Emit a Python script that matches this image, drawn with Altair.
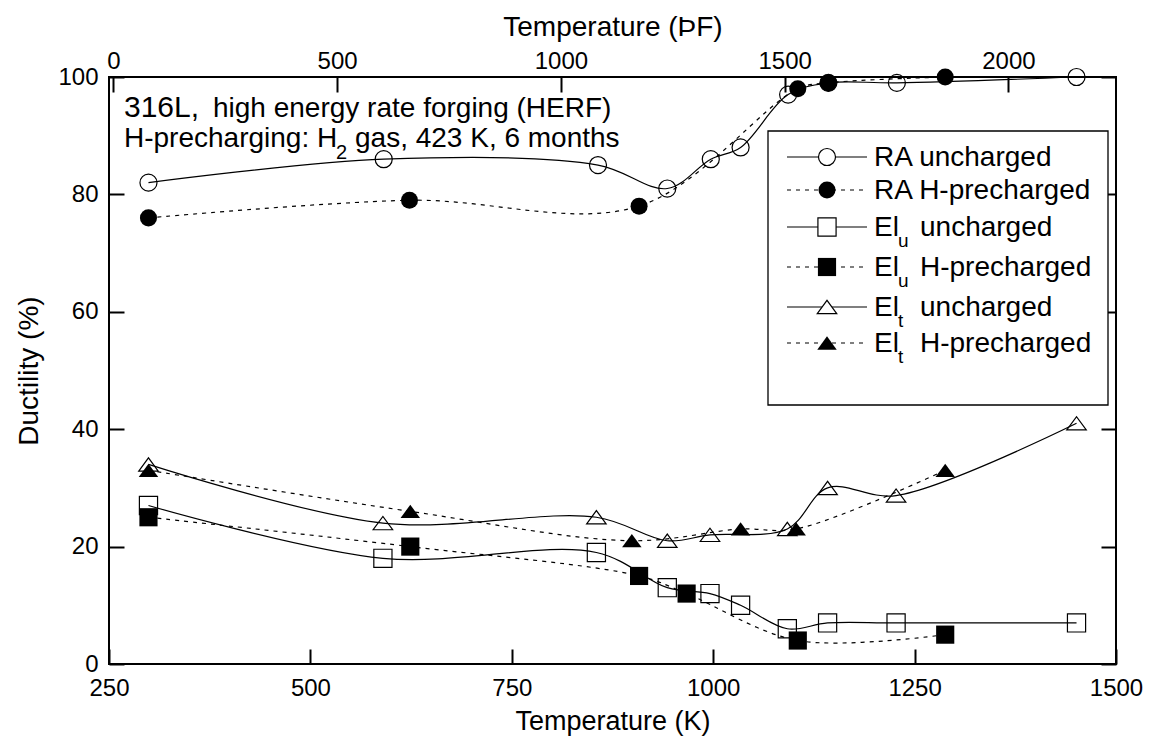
import altair as alt
import pandas as pd

# ---------------- data ----------------
ra_unc_T = [299, 591, 857, 943, 997, 1034, 1093, 1143, 1228, 1451]
ra_unc_V = [82, 86, 85, 81, 86, 88, 97, 99, 99, 100]

ra_h_T = [299, 623, 908, 1105, 1143, 1288]
ra_h_V = [76, 79, 78, 98, 99, 100]

elu_unc_T = [299, 590, 855, 943, 996, 1034, 1092, 1142, 1227, 1451]
elu_unc_V = [27, 18, 19, 13, 12, 10, 6, 7, 7, 7]

elu_h_T = [299, 624, 908, 967, 1105, 1288]
elu_h_V = [25, 20, 15, 12, 4, 5]

elt_unc_T = [299, 590, 855, 943, 996, 1092, 1142, 1227, 1451]
elt_unc_V = [34, 24, 25, 21, 22, 23, 30, 28.7, 41]

elt_h_T = [299, 624, 899, 1034, 1103, 1288]
elt_h_V = [33, 26, 21, 23, 23, 33]

k_ticks = [250, 500, 750, 1000, 1250, 1500]
f_ticks = [0, 500, 1000, 1500, 2000]
y_ticks = [0, 20, 40, 60, 80, 100]

FONT = "Liberation Sans"
W, H = 1007, 587
TRI = "M-1,0.68L1,0.68L0,-0.68Z"

xs = alt.Scale(domain=[250, 1500], nice=False, zero=False)
ys = alt.Scale(domain=[0, 100], nice=False, zero=False)
f_lo = (250 - 273.15) * 1.8 + 32
f_hi = (1500 - 273.15) * 1.8 + 32
fs = alt.Scale(domain=[f_lo, f_hi], nice=False, zero=False)

common = dict(offset=-15, tickSize=15, tickWidth=2, tickColor="black", domain=False,
              grid=False, labelFont=FONT, titleFont=FONT, labelColor="black",
              titleColor="black", titleFontWeight="normal")

x_axis = alt.Axis(orient="bottom", values=k_ticks, title="Temperature (K)",
                  labelPadding=12, labelFontSize=24, titleFontSize=27, titlePadding=8,
                  labelFlush=False, labelOverlap=False, format="d", **common)
y_axis = alt.Axis(orient="left", values=y_ticks, title="Ductility (%)",
                  labelPadding=11, labelFontSize=24, titleFontSize=28, titlePadding=14,
                  labelFlush=False, labelOverlap=False, format="d", **common)
r_axis = alt.Axis(orient="right", values=y_ticks, title="", labels=False, **common)
t_axis = alt.Axis(orient="top", values=f_ticks, title="Temperature (ÞF)",
                  labelPadding=4, labelFontSize=24, titleFontSize=28, titlePadding=8,
                  labelFlush=False, labelOverlap=False, format="d", **common)

series = [
    ("RA uncharged", ra_unc_T, ra_unc_V, "circle", False, 290),
    ("El_u uncharged", elu_unc_T, elu_unc_V, "square", False, 330),
    ("El_t uncharged", elt_unc_T, elt_unc_V, TRI, False, 380),
    ("RA H-precharged", ra_h_T, ra_h_V, "circle", True, 290),
    ("El_u H-precharged", elu_h_T, elu_h_V, "square", True, 330),
    ("El_t H-precharged", elt_h_T, elt_h_V, TRI, True, 380),
]

DASH = [4, 5]
layers = []
for name, T, V, shape, filled, size in series:
    df = pd.DataFrame({"T": T, "v": V})
    enc = dict(x=alt.X("T:Q", scale=xs, axis=x_axis), y=alt.Y("v:Q", scale=ys, axis=y_axis))
    lk = dict(color="black", strokeWidth=1.2, interpolate="catmull-rom")
    if filled:
        lk["strokeDash"] = DASH
    layers.append(alt.Chart(df).mark_line(**lk).encode(**enc))
for name, T, V, shape, filled, size in series:
    df = pd.DataFrame({"T": T, "v": V})
    enc = dict(x=alt.X("T:Q", scale=xs, axis=x_axis), y=alt.Y("v:Q", scale=ys, axis=y_axis))
    if filled:
        mk = alt.Chart(df).mark_point(shape=shape, filled=True, color="black", size=size, opacity=1)
    else:
        mk = alt.Chart(df).mark_point(shape=shape, filled=False, color="black", size=size,
                                      strokeWidth=1.2, opacity=1)
    layers.append(mk.encode(**enc))

one = pd.DataFrame({"a": [0]})


def txt(s, x, y, size):
    return alt.Chart(one).mark_text(text=s, font=FONT, fontSize=size, align="left",
                                    baseline="alphabetic", color="black").encode(
        x=alt.value(x), y=alt.value(y))


# annotation (pixel positions relative to plot area)
layers += [
    txt("316L,", 15, 40, 30),
    txt("high energy rate forging (HERF)", 104, 40, 28),
    txt("H-precharging: H", 15, 70, 28),
    txt("2", 227, 82, 20),
    txt("gas, 423 K, 6 months", 246, 70, 28),
]

# legend
layers.append(alt.Chart(one).mark_rect(fill="white", stroke="black", strokeWidth=1.3).encode(
    x=alt.value(659), x2=alt.value(999), y=alt.value(54), y2=alt.value(328)))

leg_rows = [
    ("RA", None, " uncharged", "circle", False, 290, 80),
    ("RA", None, " H-precharged", "circle", True, 290, 113),
    ("El", "u", " uncharged", "square", False, 330, 150),
    ("El", "u", " H-precharged", "square", True, 330, 190),
    ("El", "t", " uncharged", TRI, False, 380, 230),
    ("El", "t", " H-precharged", TRI, True, 380, 266),
]
for main, sub, rest, shape, filled, size, ry in leg_rows:
    rk = dict(color="black", strokeWidth=1.2)
    if filled:
        rk["strokeDash"] = DASH
    layers.append(alt.Chart(one).mark_rule(**rk).encode(
        x=alt.value(678), x2=alt.value(758), y=alt.value(ry)))
    if filled:
        layers.append(alt.Chart(one).mark_point(shape=shape, filled=True, color="black",
                                                size=size, opacity=1).encode(
            x=alt.value(718), y=alt.value(ry)))
    else:
        layers.append(alt.Chart(one).mark_point(shape=shape, filled=False, fill="white",
                                                stroke="black", strokeWidth=1.2, size=size,
                                                opacity=1, fillOpacity=1).encode(
            x=alt.value(718), y=alt.value(ry)))
    if sub is None:
        layers.append(txt(main + rest, 765, ry + 9, 28))
    else:
        layers.append(txt(main, 765, ry + 9, 28))
        layers.append(txt(sub, 789, ry + 20, 19))
        layers.append(txt(rest.strip(), 811, ry + 9, 28))

data_layer = alt.layer(*layers)

right_layer = alt.Chart(pd.DataFrame({"v": ra_unc_V})).mark_point(opacity=0).encode(
    y=alt.Y("v:Q", scale=ys, axis=r_axis))
top_layer = alt.Chart(pd.DataFrame({"f": [(t - 273.15) * 1.8 + 32 for t in ra_unc_T]})).mark_point(
    opacity=0).encode(x=alt.X("f:Q", scale=fs, axis=t_axis))

chart = alt.layer(data_layer, right_layer, top_layer).resolve_scale(
    x="independent").resolve_axis(x="independent", y="independent").properties(
    width=W, height=H,
    padding={"left": 101, "top": 69, "right": 27, "bottom": 76},
    autosize=alt.AutoSizeParams(type="none"),
    background="white",
).configure_view(stroke="black", strokeWidth=2)

chart.save("out.html", embed_options={"renderer": "svg", "actions": False})
